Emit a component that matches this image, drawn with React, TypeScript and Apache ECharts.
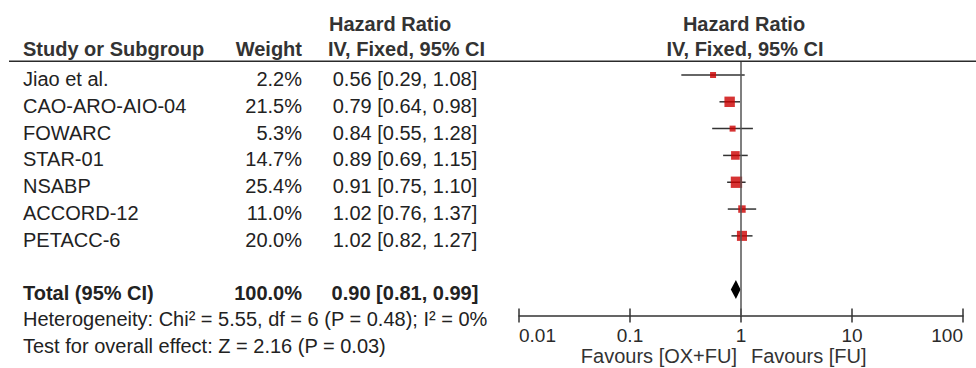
import React, { useEffect, useRef } from "react";
import * as echarts from "echarts";

// ---- data ----
const studies = ["Jiao et al.", "CAO-ARO-AIO-04", "FOWARC", "STAR-01", "NSABP", "ACCORD-12", "PETACC-6"];
const weights = [2.2, 21.5, 5.3, 14.7, 25.4, 11.0, 20.0];
const hazardRatios = [0.56, 0.79, 0.84, 0.89, 0.91, 1.02, 1.02];
const ciLower = [0.29, 0.64, 0.55, 0.69, 0.75, 0.76, 0.82];
const ciUpper = [1.08, 0.98, 1.28, 1.15, 1.10, 1.37, 1.27];
const totalLabel = "Total (95% CI)";
const totalWeight = 100.0;
const totalHR = 0.90;
const totalLower = 0.81;
const totalUpper = 0.99;
const heterogeneityText = "Heterogeneity: Chi\u00B2 = 5.55, df = 6 (P = 0.48); I\u00B2 = 0%";
const overallEffectText = "Test for overall effect: Z = 2.16 (P = 0.03)";
const xTickValues = [0.01, 0.1, 1, 10, 100];
const xTickLabels = ["0.01", "0.1", "1", "10", "100"];
const favoursLeft = "Favours [OX+FU]";
const favoursRight = "Favours [FU]";
const headerTop = "Hazard Ratio";
const headerSub = "IV, Fixed, 95% CI";
const colStudy = "Study or Subgroup";
const colWeight = "Weight";

const FONT = '"Liberation Sans", Arial, Helvetica, sans-serif';
const TXT = "#222";
const FS = 20;

function fmt2(v: number) {
  return v.toFixed(2);
}

export default function App() {
  const ref = useRef<HTMLDivElement>(null);
  useEffect(() => {
    if (!ref.current) return;
    const chart = echarts.init(ref.current, null, { renderer: "svg", width: 976, height: 368 });
    const totalRow = studies.length + 1;
    const yMin = -0.522;
    const yMax = 8.97;
    const gridTop = 61;
    const gridBottomY = 315.5;
    const rowPx = (v: number) => gridTop + ((v - yMin) / (yMax - yMin)) * (gridBottomY - gridTop);

    const ciData = studies.map((_, i) => [ciLower[i], ciUpper[i], i]);
    const pointData = studies.map((_, i) => [hazardRatios[i], i, weights[i]]);
    const diamondData = [[totalLower, totalHR, totalUpper, totalRow]];
    const tickData = xTickValues.map((v) => [v, yMax]);

    const labelFormatter = (v: number) => {
      const idx = Math.round(Math.log10(v)) - Math.round(Math.log10(xTickValues[0]));
      return xTickLabels[idx] ?? String(v);
    };

    const t = (text: string, x: number, y: number, align: string, bold = false, color = TXT) => ({
      type: "text",
      x,
      y,
      style: {
        text,
        fill: color,
        fontFamily: FONT,
        fontSize: FS,
        fontWeight: bold ? "bold" : "normal",
        align,
        verticalAlign: "middle",
      },
    });

    const graphics: any[] = [
      { type: "rect", z: 20, shape: { x: 9, y: 60.5, width: 967, height: 1.5 }, style: { fill: "#2b2b2b" } },
      t(headerTop, 329, 24, "left", true, "#333"),
      t(colStudy, 23, 49, "left", true, "#333"),
      t(colWeight, 302, 49, "right", true, "#333"),
      t(headerSub, 328, 49, "left", true, "#333"),
      t(headerTop, 744, 24, "center", true, "#333"),
      t(headerSub, 745, 49, "center", true, "#333"),
    ];
    studies.forEach((s, i) => {
      const y = rowPx(i) + 4;
      graphics.push(t(s, 23, y, "left"));
      graphics.push(t(weights[i].toFixed(1) + "%", 302, y, "right"));
      graphics.push(t(`${fmt2(hazardRatios[i])} [${fmt2(ciLower[i])}, ${fmt2(ciUpper[i])}]`, 405, y, "center"));
    });
    const ty = rowPx(totalRow) + 3.2;
    graphics.push(t(totalLabel, 23, ty, "left", true));
    graphics.push(t(totalWeight.toFixed(1) + "%", 302, ty, "right", true));
    graphics.push(t(`${fmt2(totalHR)} [${fmt2(totalLower)}, ${fmt2(totalUpper)}]`, 405, ty, "center", true));
    graphics.push(t(heterogeneityText, 23, 319, "left"));
    graphics.push(t(overallEffectText, 23, 346, "left"));
    graphics.push(t(favoursLeft, 737, 356, "right", false, "#333"));
    graphics.push(t(favoursRight, 751, 356, "left", false, "#333"));

    chart.setOption({
      animation: false,
      grid: { left: 519, right: 13, top: gridTop, bottom: 368 - gridBottomY, containLabel: false },
      xAxis: {
        type: "log",
        logBase: 10,
        min: xTickValues[0],
        max: xTickValues[xTickValues.length - 1],
        position: "bottom",
        axisLine: { show: true, onZero: false, lineStyle: { color: "#333", width: 1.5 } },
        axisTick: { show: false },
        splitLine: { show: false },
        minorTick: { show: false },
        axisLabel: {
          show: true,
          margin: 10,
          color: "#2a2a2a",
          fontFamily: FONT,
          fontSize: 19,
          formatter: labelFormatter,
          alignMinLabel: "left",
          alignMaxLabel: "right",
        },
      },
      yAxis: {
        type: "value",
        inverse: true,
        min: yMin,
        max: yMax,
        show: false,
        splitLine: { show: false },
      },
      graphic: { elements: graphics },
      series: [
        {
          type: "custom",
          name: "ticks",
          clip: false,
          encode: { x: 0, y: 1 },
          data: tickData,
          renderItem: (params: any, api: any) => {
            const p = api.coord([api.value(0), api.value(1)]);
            return {
              type: "line",
              shape: { x1: p[0], y1: p[1] - 7, x2: p[0], y2: p[1] + 7 },
              style: { stroke: "#333", lineWidth: 1.5 },
            };
          },
          z: 2,
        },
        {
          type: "custom",
          name: "ci",
          clip: false,
          encode: { x: [0, 1], y: 2 },
          data: ciData,
          renderItem: (params: any, api: any) => {
            const p1 = api.coord([api.value(0), api.value(2)]);
            const p2 = api.coord([api.value(1), api.value(2)]);
            return {
              type: "line",
              shape: { x1: p1[0], y1: p1[1], x2: p2[0], y2: p2[1] },
              style: { stroke: "#333", lineWidth: 1.5 },
            };
          },
          markLine: {
            silent: true,
            symbol: ["none", "none"],
            label: { show: false },
            lineStyle: { color: "#555", width: 1.5, type: "solid" },
            data: [{ xAxis: 1 }],
          },
          z: 2,
        },
        {
          type: "scatter",
          name: "hr",
          symbol: "rect",
          symbolSize: (val: number[]) => Math.max(6, 2.25 * Math.sqrt(val[2])),
          itemStyle: { color: "#cc0000" },
          data: pointData,
          z: 3,
        },
        {
          type: "custom",
          name: "total",
          clip: false,
          encode: { x: [0, 1, 2], y: 3 },
          data: diamondData,
          renderItem: (params: any, api: any) => {
            const row = api.value(3);
            const l = api.coord([api.value(0), row]);
            const m = api.coord([api.value(1), row]);
            const r = api.coord([api.value(2), row]);
            const h = 9.5;
            return {
              type: "polygon",
              shape: { points: [[l[0], l[1]], [m[0], m[1] - h], [r[0], r[1]], [m[0], m[1] + h]] },
              style: { fill: "#000" },
            };
          },
          z: 3,
        },
      ],
    });

    return () => chart.dispose();
  }, []);

  return (
    <div style={{ position: "fixed", left: 0, top: 0, width: 976, height: 368, background: "#fff" }}>
      <div ref={ref} style={{ position: "absolute", left: 0, top: 0, width: 976, height: 368 }} />
      <div
        style={{
          position: "absolute",
          left: 9,
          top: 60.5,
          width: 967,
          height: 1.5,
          background: "#2b2b2b",
          pointerEvents: "none",
        }}
      />
    </div>
  );
}
